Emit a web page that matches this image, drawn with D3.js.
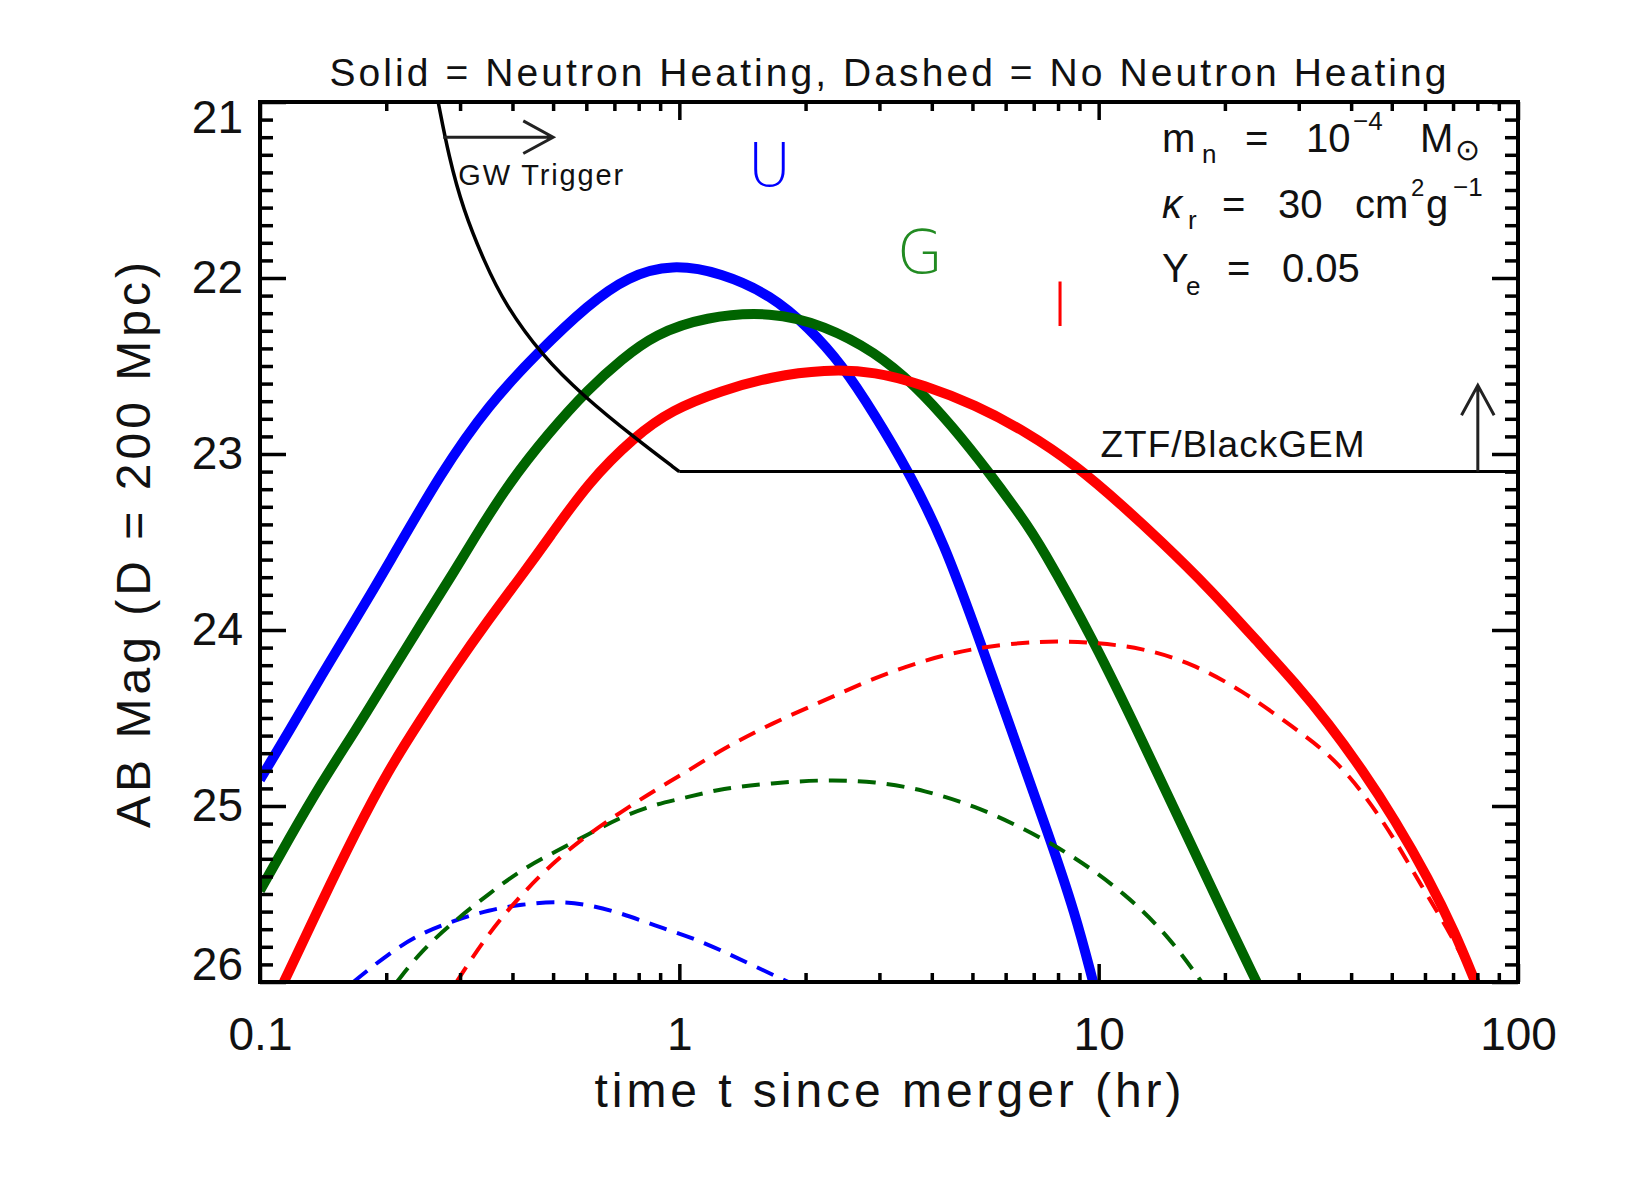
<!DOCTYPE html>
<html>
<head>
<meta charset="utf-8">
<script src="https://cdn.jsdelivr.net/npm/d3@7"></script>
<style>
    body { margin: 0; background: #fff; }
    svg { display: block; font-family: "Liberation Sans", Arial, sans-serif; }
</style>
</head>
<body>
<div id="chart"></div>
<script>
'use strict';

// light curves: time since merger (hr) and AB mag
var uSolidT   = [0.1, 0.117, 0.140, 0.169, 0.202, 0.271, 0.351, 0.461, 0.607, 0.755, 0.959, 1.26, 1.66, 2.03, 2.44, 2.93, 3.52, 4.26, 5.26, 6.32, 7.59, 8.79, 9.70];
var uSolidMag = [24.85, 24.58, 24.26, 23.94, 23.63, 23.10, 22.72, 22.42, 22.15, 21.99, 21.92, 21.97, 22.10, 22.28, 22.49, 22.78, 23.10, 23.49, 24.09, 24.63, 25.16, 25.61, 26.0];

var gSolidT   = [0.1, 0.117, 0.140, 0.169, 0.202, 0.243, 0.292, 0.320, 0.391, 0.488, 0.607, 0.730, 0.875, 1.15, 1.66, 2.22, 2.93, 3.65, 4.47, 5.46, 6.56, 7.24, 9.79, 12.7, 16.4, 20.4, 23.8];
var gSolidMag = [25.48, 25.19, 24.87, 24.57, 24.27, 23.96, 23.66, 23.50, 23.17, 22.88, 22.63, 22.46, 22.32, 22.22, 22.19, 22.27, 22.42, 22.61, 22.84, 23.10, 23.36, 23.51, 24.07, 24.63, 25.19, 25.67, 26.0];

var iSolidT   = [0.114, 0.140, 0.169, 0.202, 0.243, 0.292, 0.351, 0.421, 0.488, 0.607, 0.783, 0.959, 1.26, 1.66, 2.22, 2.93, 3.85, 5.07, 6.67, 8.79, 11.6, 14.0, 18.3, 24.0, 29.4, 35.3, 42.4, 50.9, 61.1, 70.8, 79.1];
var iSolidMag = [26.0, 25.55, 25.15, 24.80, 24.50, 24.21, 23.94, 23.69, 23.48, 23.16, 22.90, 22.75, 22.64, 22.56, 22.52, 22.53, 22.61, 22.72, 22.87, 23.06, 23.31, 23.49, 23.76, 24.07, 24.30, 24.53, 24.79, 25.08, 25.41, 25.72, 26.0];

var uDashT   = [0.167, 0.202, 0.243, 0.292, 0.351, 0.421, 0.506, 0.607, 0.730, 0.875, 1.05, 1.26, 1.51, 1.82];
var uDashMag = [26.0, 25.84, 25.72, 25.65, 25.59, 25.56, 25.54, 25.56, 25.61, 25.68, 25.74, 25.82, 25.91, 26.0];

var gDashT   = [0.212, 0.243, 0.292, 0.351, 0.421, 0.506, 0.607, 0.730, 0.875, 1.05, 1.26, 1.66, 2.22, 2.93, 3.85, 5.07, 6.67, 8.79, 11.6, 14.7, 17.6];
var gDashMag = [26.0, 25.82, 25.65, 25.50, 25.36, 25.26, 25.16, 25.06, 24.99, 24.95, 24.90, 24.87, 24.85, 24.86, 24.91, 25.00, 25.13, 25.29, 25.50, 25.74, 26.0];

var iDashT   = [0.294, 0.351, 0.421, 0.506, 0.607, 0.730, 0.875, 1.05, 1.26, 1.66, 2.22, 2.93, 3.85, 5.07, 7.31, 9.62, 12.7, 16.7, 21.9, 29.4, 35.3, 42.4, 50.9, 59.0, 67.0, 77.6];
var iDashMag = [26.0, 25.72, 25.50, 25.31, 25.16, 25.03, 24.91, 24.80, 24.68, 24.53, 24.40, 24.27, 24.17, 24.10, 24.06, 24.07, 24.10, 24.19, 24.34, 24.56, 24.70, 24.91, 25.19, 25.46, 25.67, 25.96];

// GW trigger limit, then the flat ZTF/BlackGEM depth
var gwT   = [0.266, 0.282, 0.305, 0.343, 0.384, 0.47, 0.59, 0.784, 1.0];
var gwMag = [21.0, 21.31, 21.61, 21.91, 22.15, 22.44, 22.67, 22.91, 23.10];
var ztfT   = [1, 100];
var ztfMag = [23.1, 23.1];

var xMajorTicks = [0.1, 1, 10, 100];
var xTickLabels = ['0.1', '1', '10', '100'];
var yTickLabels = ['21', '22', '23', '24', '25', '26'];

var width = 1645, height = 1194;
var margin = {top: 102, right: 127, bottom: 212, left: 260};
var plotW = width - margin.left - margin.right;
var plotH = height - margin.top - margin.bottom;

var blue = '#0000ff', green = '#006400', red = '#ff0000';

var x = d3.scaleLog().domain([0.1, 100]).range([0, plotW]);
var y = d3.scaleLinear().domain([21, 26]).range([0, plotH]);

function zip(ts, ms) {
    return ts.map(function(t, i) { return [t, ms[i]]; });
}

var series = [
    {data: zip(uSolidT, uSolidMag), color: blue, width: 10},
    {data: zip(gSolidT, gSolidMag), color: green, width: 10},
    {data: zip(iSolidT, iSolidMag), color: red, width: 10},
    {data: zip(uDashT, uDashMag), color: blue, width: 4, dash: '18,11'},
    {data: zip(gDashT, gDashMag), color: green, width: 4, dash: '18,11'},
    {data: zip(iDashT, iDashMag), color: red, width: 4, dash: '18,11'}
];

var svg = d3.select('#chart').append('svg')
    .attr('width', width)
    .attr('height', height);

var g = svg.append('g')
    .attr('transform', 'translate(' + margin.left + ',' + margin.top + ')');

g.append('clipPath').attr('id', 'plotClip')
    .append('rect')
    .attr('width', plotW)
    .attr('height', plotH);

var line = d3.line()
    .x(function(d) { return x(d[0]); })
    .y(function(d) { return y(d[1]); })
    .curve(d3.curveBasis);

var curves = g.append('g').attr('clip-path', 'url(#plotClip)');

curves.selectAll('path.lc')
    .data(series)
    .enter().append('path')
    .attr('class', 'lc')
    .attr('d', function(d) { return line(d.data); })
    .attr('fill', 'none')
    .attr('stroke', function(d) { return d.color; })
    .attr('stroke-width', function(d) { return d.width; })
    .attr('stroke-dasharray', function(d) { return d.dash || null; })
    .attr('stroke-linejoin', 'round');

curves.append('path')
    .attr('d', line(zip(gwT, gwMag)))
    .attr('fill', 'none')
    .attr('stroke', '#000')
    .attr('stroke-width', 3.5);

curves.append('path')
    .attr('d', d3.line()(zip(ztfT, ztfMag).map(function(d) { return [x(d[0]), y(d[1])]; })))
    .attr('fill', 'none')
    .attr('stroke', '#000')
    .attr('stroke-width', 3);

// arrows
function arrow(x1, y1, x2, y2) {
    var a = Math.atan2(y2 - y1, x2 - x1), len = 34, spread = 0.5;
    var p = d3.path();
    p.moveTo(x1, y1);
    p.lineTo(x2, y2);
    p.moveTo(x2 - len * Math.cos(a - spread), y2 - len * Math.sin(a - spread));
    p.lineTo(x2, y2);
    p.lineTo(x2 - len * Math.cos(a + spread), y2 - len * Math.sin(a + spread));
    g.append('path')
        .attr('d', p.toString())
        .attr('fill', 'none')
        .attr('stroke', '#222')
        .attr('stroke-width', 3);
}
arrow(x(0.2735), y(21.2), x(0.5), y(21.2));
arrow(x(80.2), y(23.1), x(80.2), y(22.61));

g.append('text')
    .attr('x', x(0.297))
    .attr('y', y(21.47))
    .attr('font-size', 29)
    .attr('textLength', 165)
    .attr('fill', '#111')
    .text('GW Trigger');

g.append('text')
    .attr('x', x(10.1))
    .attr('y', y(23.1) - 15)
    .attr('font-size', 37)
    .attr('textLength', 264)
    .attr('fill', '#111')
    .text('ZTF/BlackGEM');

// band letters
var bands = [
    {name: 'U', t: 1.64, mag: 21.48, color: blue},
    {name: 'G', t: 3.75, mag: 21.97, color: '#228b22'},
    {name: 'I', t: 8.09, mag: 22.27, color: red}
];
g.selectAll('text.band')
    .data(bands)
    .enter().append('text')
    .attr('class', 'band')
    .attr('x', function(d) { return x(d.t); })
    .attr('y', function(d) { return y(d.mag); })
    .attr('text-anchor', 'middle')
    .attr('font-size', 60)
    .attr('font-family', '"DejaVu Sans", sans-serif')
    .attr('font-weight', 200)
    .attr('fill', function(d) { return d.color; })
    .text(function(d) { return d.name; });

// model parameters, top right: [text, dx, dy, size, style]
var infoLines = [
    {y: 50, parts: [['m', 0, 0, 40], ['n', 40, 11, 26], ['=', 83, 0, 40], ['10', 144, 0, 40], ['\u22124', 191, -22, 26], ['M', 258, 0, 40], ['\u2299', 293, 8, 30]]},
    {y: 116, parts: [['\u03BA', 0, 0, 40, 'italic'], ['r', 26, 11, 26], ['=', 60, 0, 40], ['30', 116, 0, 40], ['cm', 193, 0, 40], ['2', 249, -22, 24], ['g', 264, 0, 40], ['\u22121', 291, -22, 26]]},
    {y: 180, parts: [['Y', 0, 0, 40], ['e', 24, 13, 26], ['=', 65, 0, 40], ['0.05', 120, 0, 40]]}
];
var infoX = 902;
infoLines.forEach(function(l) {
    l.parts.forEach(function(p) {
        g.append('text')
            .attr('x', infoX + p[1])
            .attr('y', l.y + p[2])
            .attr('font-size', p[3])
            .attr('font-style', p[4] || null)
            .attr('fill', '#111')
            .text(p[0]);
    });
});

// axes: ticks on all four sides, pointing in
function isMajorX(v) {
    var l = Math.log10(v);
    return Math.abs(l - Math.round(l)) < 1e-6;
}
var xTicks = [];
xMajorTicks.slice(0, 3).forEach(function(m) {
    for (var k = 1; k < 10; k++) xTicks.push(m * k);
});
xTicks.push(100);

var yTicks = d3.range(0, 51).map(function(i) { return Math.round(210 + i) / 10; });
function isMajorY(v) { return Math.abs(v - Math.round(v)) < 1e-6; }

var gxb = g.append('g')
    .attr('transform', 'translate(0,' + plotH + ')')
    .call(d3.axisBottom(x).tickValues(xTicks).tickSize(-18).tickPadding(35)
        .tickFormat(function(d) { return isMajorX(d) ? xTickLabels[Math.round(Math.log10(d)) + 1] : ''; }));
gxb.selectAll('.tick line').attr('y2', function(d) { return isMajorX(d) ? -18 : -9; });

var gxt = g.append('g')
    .call(d3.axisTop(x).tickValues(xTicks).tickSize(-18).tickFormat(''));
gxt.selectAll('.tick line').attr('y2', function(d) { return isMajorX(d) ? 18 : 9; });

var gyl = g.append('g')
    .call(d3.axisLeft(y).tickValues(yTicks).tickSize(-26).tickPadding(17)
        .tickFormat(function(d) { return isMajorY(d) ? yTickLabels[Math.round(d) - 21] : ''; }));
gyl.selectAll('.tick line').attr('x2', function(d) { return isMajorY(d) ? 26 : 13; });
gyl.selectAll('.tick text').attr('y', function(d) {
    if (d === 21) return 16;
    if (d === 26) return -17;
    return 0;
});

var gyr = g.append('g')
    .attr('transform', 'translate(' + plotW + ',0)')
    .call(d3.axisRight(y).tickValues(yTicks).tickSize(-26).tickFormat(''));
gyr.selectAll('.tick line').attr('x2', function(d) { return isMajorY(d) ? -26 : -13; });

[gxb, gxt, gyl, gyr].forEach(function(a) {
    a.select('.domain').remove();
    a.attr('font-family', null).attr('font-size', 46);
    a.selectAll('.tick line').attr('stroke', '#000').attr('stroke-width', 3.5);
    a.selectAll('.tick text').attr('fill', '#111');
});

g.append('rect')
    .attr('width', plotW)
    .attr('height', plotH)
    .attr('fill', 'none')
    .attr('stroke', '#000')
    .attr('stroke-width', 4);

// titles
svg.append('text')
    .attr('x', 888)
    .attr('y', 86)
    .attr('text-anchor', 'middle')
    .attr('font-size', 39)
    .attr('textLength', 1117)
    .attr('fill', '#111')
    .text('Solid = Neutron Heating, Dashed = No Neutron Heating');

svg.append('text')
    .attr('x', 888)
    .attr('y', 1107)
    .attr('text-anchor', 'middle')
    .attr('font-size', 48)
    .attr('textLength', 587)
    .attr('fill', '#111')
    .text('time t since merger (hr)');

svg.append('text')
    .attr('transform', 'translate(150,545) rotate(-90)')
    .attr('text-anchor', 'middle')
    .attr('font-size', 48)
    .attr('textLength', 566)
    .attr('fill', '#111')
    .text('AB Mag (D = 200 Mpc)');
</script>
</body>
</html>
